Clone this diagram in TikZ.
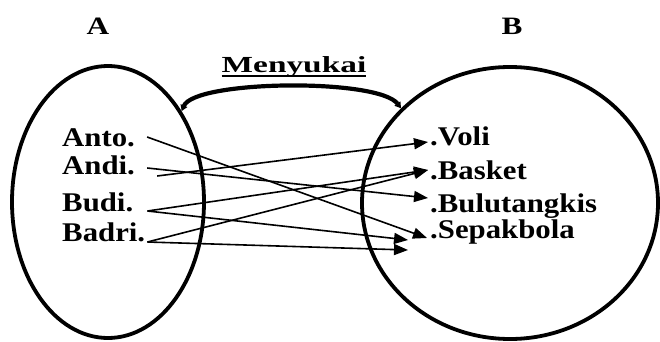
\documentclass[tikz,border=0pt]{standalone}
\usepackage{fontspec}
\setmainfont{Liberation Serif}
\usetikzlibrary{arrows.meta,positioning,shapes.geometric}
\newcommand{\ulabel}[1]{\setbox0\hbox{#1}\rlap{\rule[-4.5pt]{\wd0}{2pt}}\box0}
\tikzset{
  fn/set/.style={
    ellipse,
    draw=black,
    line width=3.8pt,
    inner sep=0pt
  },
  fn/title/.style={font=\bfseries\fontsize{25}{28}\selectfont, inner sep=0pt, xscale=1.25},
  fn/item/.style={font=\bfseries\fontsize{27}{30}\selectfont, inner sep=0pt, xscale=1.14},
  fn/rel/.style={font=\bfseries\fontsize{23}{26}\selectfont, inner sep=0pt, xscale=1.45},
  fn/arrow/.style={-{Triangle[length=14pt,width=11pt]}, line width=1.6pt, draw=black},
  fn/link/.style={{Triangle[length=6pt,width=7pt]}-{Triangle[length=6pt,width=7pt]}, line width=4.2pt, draw=black}
}

\begin{document}
\begin{tikzpicture}[x=1pt,y=-1pt]
  \useasboundingbox (0,0) rectangle (660,342);
  % the two sets
  \node[fn/set,minimum width=192pt,minimum height=272pt] (setA) at (108,202) {};
  \node[fn/set,minimum width=296pt,minimum height=272pt] (setB) at (510,203) {};
  \node[fn/title,anchor=base] (nameA) at (98,35) {A};
  \node[fn/title,anchor=base] (nameB) at (512,35) {B};
  \node[fn/rel,anchor=base] (rel) at (294,73) {\ulabel{Menyukai}};
  \draw[fn/link] (setA.51) .. controls (195,80) and (378,78) .. (setB.139);
  % domain
  \node[fn/item,anchor=base west] (anto) at (62,146) {Anto.};
  \node[fn/item,anchor=base west] (andi) at (62,174) {Andi.};
  \node[fn/item,anchor=base west] (budi) at (62,211) {Budi.};
  \node[fn/item,anchor=base west] (badri) at (62,241) {Badri.};
  % codomain
  \node[fn/item,anchor=base west] (voli) at (430,145) {.Voli};
  \node[fn/item,anchor=base west] (basket) at (430,179) {.Basket};
  \node[fn/item,anchor=base west] (bulu) at (430,212) {.Bulutangkis};
  \node[fn/item,anchor=base west] (sepak) at (430,238) {.Sepakbola};
  % pairs
  \draw[fn/arrow] ([xshift=12pt,yshift=9pt]anto.base east) -- ([xshift=-3pt]sepak.base west);
  \draw[fn/arrow] ([xshift=12pt,yshift=6pt]andi.base east) -- ([xshift=-2pt,yshift=14pt]bulu.base west);
  \draw[fn/arrow] ([xshift=22pt,yshift=-2pt]andi.base east) -- ([xshift=-2pt,yshift=3pt]voli.base west);
  \draw[fn/arrow] ([xshift=14pt]budi.base east) -- ([xshift=-2pt,yshift=9pt]basket.base west);
  \draw[fn/arrow] ([xshift=14pt]budi.base east) -- ([xshift=-22pt,yshift=-2pt]sepak.base west);
  \draw[fn/arrow] ([xshift=2pt,yshift=-1pt]badri.base east) -- ([xshift=-2pt,yshift=9pt]basket.base west);
  \draw[fn/arrow] ([xshift=2pt,yshift=-1pt]badri.base east) -- ([xshift=-22pt,yshift=-12pt]sepak.base west);
\end{tikzpicture}
\end{document}
